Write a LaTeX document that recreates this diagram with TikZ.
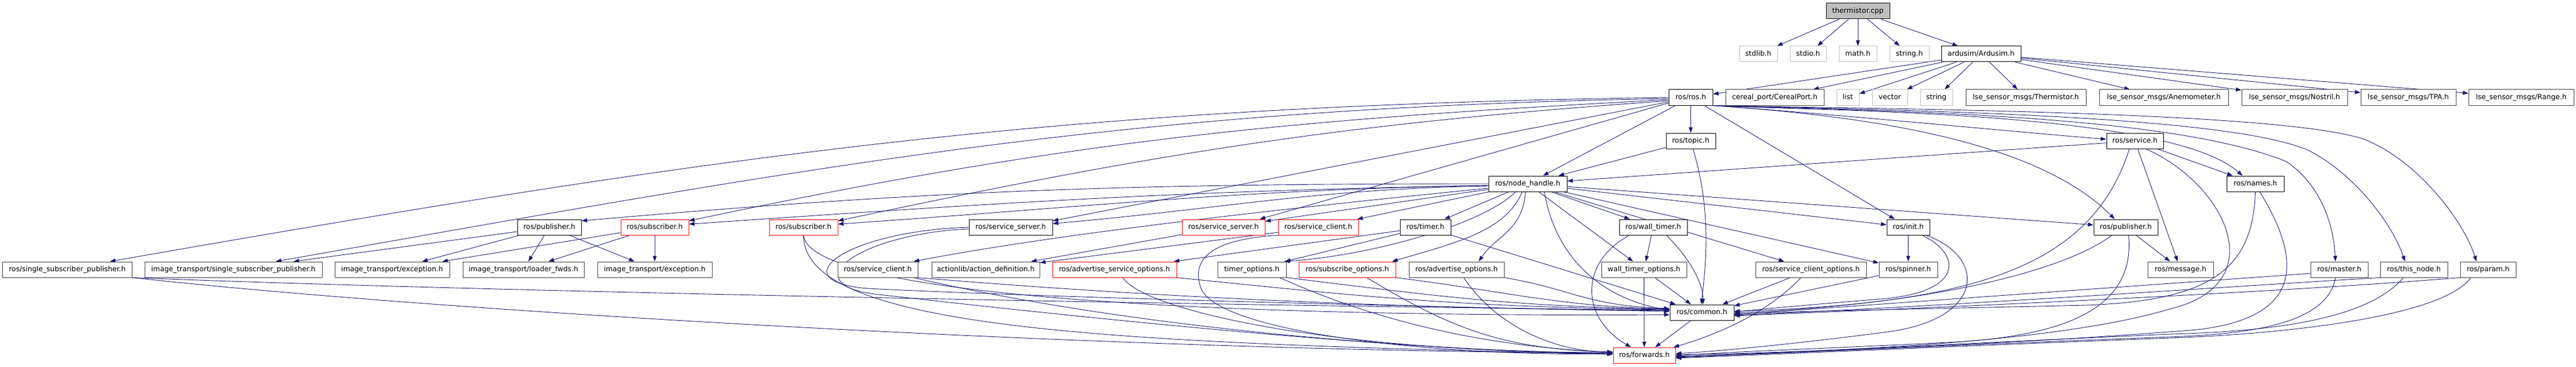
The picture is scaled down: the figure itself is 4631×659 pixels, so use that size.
\documentclass[tikz,border=0pt]{standalone}
\usepackage{fontspec}
\setmainfont{DejaVu Sans}
\usetikzlibrary{arrows.meta}
\definecolor{mblue}{HTML}{191970}
\definecolor{dgray}{HTML}{404040}
\definecolor{lgray}{HTML}{BFBFBF}
\pgfdeclarelayer{bg}
\pgfsetlayers{bg,main}
\newcommand{\gnd}[5]{\node[#1,minimum width=#4bp] (#2) at (#3) {#5};}
\begin{document}
\begin{tikzpicture}[x=1bp,y=1bp,
 gbox/.style={line width=1bp, fill=white, minimum height=28bp, inner sep=0pt, font=\fontsize{12.7bp}{15bp}\selectfont, text height=9.7bp, text depth=3bp},
 nb/.style={gbox, draw=black},
 ng/.style={gbox, draw=dgray},
 nl/.style={gbox, draw=lgray},
 nr/.style={gbox, draw=red},
 rootn/.style={gbox, draw=black, fill=lgray},
 edg/.style={draw=mblue, line width=0.9bp, -{Triangle[length=10bp,width=7bp]}}]
\useasboundingbox (0,0) rectangle (4631,-659);
% nodes
\gnd{rootn}{therm}{3340,-20}{114}{thermistor.cpp}
\gnd{nl}{stdlib}{3161,-97}{68}{stdlib.h}
\gnd{nl}{stdio}{3250.5,-97}{65}{stdio.h}
\gnd{nl}{mathh}{3340,-97}{68}{math.h}
\gnd{nl}{stringh}{3432.5,-97}{71}{string.h}
\gnd{nb}{ardusim}{3561.5,-97}{143}{ardusim/Ardusim.h}
\gnd{nb}{rosh}{3039.5,-175}{79}{ros/ros.h}
\gnd{ng}{cereal}{3190.5,-175}{177}{cereal\_port/CerealPort.h}
\gnd{nl}{listn}{3322,-175}{40}{list}
\gnd{nl}{vectorn}{3397.5,-175}{63}{vector}
\gnd{nl}{stringn}{3481,-175}{58}{string}
\gnd{ng}{thermh}{3642,-175}{216}{lse\_sensor\_msgs/Thermistor.h}
\gnd{ng}{anemo}{3890,-175}{232}{lse\_sensor\_msgs/Anemometer.h}
\gnd{ng}{nostril}{4125,-175}{190}{lse\_sensor\_msgs/Nostril.h}
\gnd{ng}{tpa}{4329.5,-175}{171}{lse\_sensor\_msgs/TPA.h}
\gnd{ng}{rangen}{4532.5,-175}{189}{lse\_sensor\_msgs/Range.h}
\gnd{nb}{topic}{3039.5,-253}{89}{ros/topic.h}
\gnd{nb}{service}{3838,-253}{102}{ros/service.h}
\gnd{nb}{nh}{2746.5,-330}{141}{ros/node\_handle.h}
\gnd{nb}{names}{4054.5,-330}{103}{ros/names.h}
\gnd{nb}{pubL}{987.5,-408}{115}{ros/publisher.h}
\gnd{nr}{subA}{1177,-408}{122}{ros/subscriber.h}
\gnd{nr}{subB}{1444.5,-408}{123}{ros/subscriber.h}
\gnd{nb}{ssrvB}{1817,-408}{150}{ros/service\_server.h}
\gnd{nr}{ssrvR}{2199.5,-408}{149}{ros/service\_server.h}
\gnd{nr}{sclR}{2370,-408}{144}{ros/service\_client.h}
\gnd{nb}{timer}{2562.5,-408}{91}{ros/timer.h}
\gnd{nb}{wtimer}{2972,-408}{122}{ros/wall\_timer.h}
\gnd{nb}{init}{3430.5,-408}{77}{ros/init.h}
\gnd{nb}{pubR}{3821.5,-408}{115}{ros/publisher.h}
\gnd{ng}{rssp}{121,-484}{232}{ros/single\_subscriber\_publisher.h}
\gnd{ng}{itssp}{419.5,-484}{319}{image\_transport/single\_subscriber\_publisher.h}
\gnd{ng}{excA}{705,-484}{206}{image\_transport/exception.h}
\gnd{ng}{loader}{941,-484}{218}{image\_transport/loader\_fwds.h}
\gnd{ng}{excB}{1177,-484}{206}{image\_transport/exception.h}
\gnd{ng}{sclB}{1578,-484}{144}{ros/service\_client.h}
\gnd{ng}{actdef}{1772,-484}{194}{actionlib/action\_definition.h}
\gnd{nr}{advsrv}{2003.5,-484}{223}{ros/advertise\_service\_options.h}
\gnd{ng}{timeropt}{2250.5,-484}{123}{timer\_options.h}
\gnd{nr}{subopt}{2422,-484}{174}{ros/subscribe\_options.h}
\gnd{ng}{advopt}{2618.5,-484}{171}{ros/advertise\_options.h}
\gnd{ng}{wtopt}{2955.5,-484}{153}{wall\_timer\_options.h}
\gnd{ng}{sclopt}{3255.5,-484}{199}{ros/service\_client\_options.h}
\gnd{ng}{spinner}{3430.5,-484}{105}{ros/spinner.h}
\gnd{ng}{message}{3920,-484}{118}{ros/message.h}
\gnd{ng}{master}{4205.5,-484}{103}{ros/master.h}
\gnd{ng}{thisnode}{4339.5,-484}{121}{ros/this\_node.h}
\gnd{ng}{param}{4473,-484}{100}{ros/param.h}
\gnd{nb}{common}{3059.5,-561}{115}{ros/common.h}
\gnd{nr}{fwd}{2956,-638}{112}{ros/forwards.h}
\begin{pgfonlayer}{bg}
\fill[white] (0,0) rectangle (4631,-659);
% thermistor.cpp
\foreach \t in {stdlib,stdio,mathh,stringh,ardusim} \draw[edg] (therm) -- (\t);
% Ardusim.h
\foreach \t in {rosh,cereal,listn,vectorn,stringn,thermh,anemo,nostril,tpa,rangen} \draw[edg] (ardusim) -- (\t);
% ros.h
\draw[edg] (rosh) -- (topic);
\draw[edg] (rosh) -- (nh);
\draw[edg] (rosh) -- (init);
\draw[edg] (topic) -- (nh);
\draw[edg] (rosh.south east) .. controls (3300,-205) and (3600,-235) .. ([yshift=3]service.west);
\draw[edg] (rosh.south east) .. controls (3300,-200) and (3900,-200) .. ([xshift=-23]names.north);
\draw[edg] (rosh.south east) .. controls (3300,-205) and (3650,-240) .. ([xshift=-20]pubR.north);
\draw[edg] (rosh.south east) .. controls (3400,-200) and (3900,-205) .. (4110,-290) .. controls (4170,-330) and (4195,-400) .. ([xshift=-7]master.north);
\draw[edg] (rosh.south east) .. controls (3400,-198) and (4000,-205) .. (4150,-270) .. controls (4230,-310) and (4300,-400) .. ([xshift=-16]thisnode.north);
\draw[edg] (rosh.south east) .. controls (3400,-196) and (4100,-200) .. (4250,-250) .. controls (4350,-290) and (4430,-400) .. ([xshift=-21]param.north);
\draw[edg] (rosh.west) .. controls (1900,-190) and (1283,-280) .. ([xshift=-40]rssp.north east);
\draw[edg] ([yshift=-2]rosh.west) .. controls (2013,-194) and (1467,-299) .. ([xshift=-84]itssp.north east);
\draw[edg] ([yshift=-4]rosh.west) .. controls (2306,-215) and (1918,-253) .. ([yshift=-3]subA.north east);
\draw[edg] ([yshift=-6]rosh.west) .. controls (2411,-222) and (2084,-274) .. ([yshift=-3]subB.north east);
\draw[edg] ([yshift=-8]rosh.west) -- ([yshift=-3]ssrvB.north east);
\draw[edg] ([yshift=-10]rosh.west) -- ([xshift=-10]ssrvR.north east);
% node_handle.h
\draw[edg] (nh.west) .. controls (2037,-330) and (1682,-341) .. ([yshift=-3]pubL.north east);
\draw[edg] ([yshift=-3]nh.west) .. controls (2112,-343) and (1801,-364) .. ([yshift=-9]subA.north east);
\draw[edg] ([yshift=-3]nh.west) .. controls (2217,-341) and (1964,-371) .. ([yshift=-9]subB.north east);
\draw[edg] ([yshift=-4]nh.west) .. controls (2368,-339) and (2199,-375) .. ([yshift=-8]ssrvB.north east);
\draw[edg] (nh) -- (ssrvR);
\draw[edg] (nh) -- (sclR);
\draw[edg] (nh) -- (timer);
\draw[edg] ([yshift=-8]nh.west) .. controls (2300,-375) and (1900,-420) .. ([xshift=-8]sclB.north east);
\draw[edg] (nh) -- (wtimer);
\draw[edg] (nh) -- (wtopt);
\draw[edg] (nh) -- (sclopt);
\draw[edg] (nh) -- (spinner);
\draw[edg] (nh) -- (init);
\draw[edg] (nh) -- (pubR);
\draw[edg] ([xshift=-22]nh.south) .. controls +(-60,-60) and +(150,10) .. ([xshift=-4]timeropt.north east);
\draw[edg] ([xshift=-10]nh.south) .. controls +(-30,-70) and +(120,35) .. ([xshift=-7]subopt.north east);
\draw[edg] ([xshift=-4]nh.south) .. controls +(-5,-70) and +(30,45) .. ([xshift=40]advopt.north);
\draw[edg] ([xshift=30]nh.south) .. controls +(20,-120) and +(-120,20) .. ([yshift=4]common.west);
% timer, service server/client
\draw[edg] (timer) -- (timeropt);
\draw[edg] (timer) -- (advsrv);
\draw[edg] (timer) -- (common);
\draw[edg] (ssrvR) -- (actdef);
\draw[edg] (sclR) -- (actdef);
\draw[edg] (sclR.south west) .. controls (2170,-430) and (2140,-470) .. (2160,-520) .. controls (2200,-600) and (2600,-640) .. ([yshift=3]fwd.west);
% image_transport
\draw[edg] ([yshift=-8]pubL.west) -- ([xshift=-52]itssp.north east);
\draw[edg] (pubL) -- (excA);
\draw[edg] (pubL) -- (loader);
\draw[edg] (pubL) -- (excB);
\draw[edg] (subA) -- (excA);
\draw[edg] (subA) -- (loader);
\draw[edg] (subA) -- (excB);
% left group to common / forwards
\draw[edg] (rssp.south east) .. controls (900,-525) and (2300,-550) .. ([yshift=4]common.west);
\draw[edg] (rssp.south east) .. controls (800,-560) and (2000,-630) .. ([yshift=4]fwd.west);
\draw[edg] (subB.south) .. controls +(10,-110) and +(-800,-5) .. ([yshift=-4]common.west);
\draw[edg] (subB.south) .. controls +(0,-170) and +(-900,20) .. ([yshift=2]fwd.west);
\draw[edg] (ssrvB.west) .. controls (1520,-415) and (1400,-505) .. (1560,-518) .. controls (1900,-535) and (2600,-552) .. ([yshift=2]common.west);
\draw[edg] ([yshift=-3]ssrvB.west) .. controls (1540,-420) and (1415,-515) .. (1590,-530) .. controls (1900,-565) and (2500,-630) .. ([yshift=2]fwd.west);
\draw[edg] (sclB.south east) .. controls +(300,-25) and +(-600,5) .. ([yshift=3]common.west);
\draw[edg] ([xshift=-8]sclB.south east) .. controls +(300,-70) and +(-500,10) .. ([yshift=3]fwd.west);
\draw[edg] (advsrv.south east) .. controls +(300,-30) and +(-400,5) .. ([yshift=5]common.west);
\draw[edg] ([xshift=15]advsrv.south) .. controls +(40,-60) and +(-500,0) .. ([yshift=5]fwd.west);
\draw[edg] (timeropt.south east) .. controls +(250,-30) and +(-300,5) .. ([yshift=6]common.west);
\draw[edg] ([xshift=-12]timeropt.south east) .. controls +(200,-90) and +(-200,10) .. ([yshift=5]fwd.west);
\draw[edg] (subopt.south east) .. controls +(200,-25) and +(-200,5) .. ([yshift=6]common.west);
\draw[edg] ([xshift=35]subopt.south) .. controls +(150,-90) and +(-200,5) .. ([yshift=6]fwd.west);
\draw[edg] (advopt.south east) .. controls +(120,-20) and +(-150,5) .. ([yshift=7]common.west);
\draw[edg] ([xshift=13]advopt.south) .. controls +(60,-90) and +(-100,0) .. ([yshift=6]fwd.west);
% middle
\draw[edg] (wtimer) -- (wtopt);
\draw[edg] ([xshift=24]wtimer.south) .. controls +(40,-40) and +(0,40) .. ([xshift=2]common.north);
\draw[edg] ([xshift=4]topic.south) .. controls (3078,-380) and (3066,-480) .. ([xshift=-1]common.north);
\draw[edg] ([xshift=-43]wtimer.south) .. controls (2840,-470) and (2840,-570) .. ([xshift=-24]fwd.north);
\draw[edg] (wtopt) -- (fwd);
\draw[edg] (wtopt) -- (common);
\draw[edg] (sclopt) -- (common);
\draw[edg] ([xshift=-18]sclopt.south) .. controls (3180,-560) and (3090,-600) .. ([xshift=-4]fwd.north east);
\draw[edg] (spinner) -- (common);
\draw[edg] (init) -- (spinner);
\draw[edg] (common) -- (fwd);
% right group
\draw[edg] (service) -- (nh);
\draw[edg] (service) -- (names);
\draw[edg] (service) -- (message);
\draw[edg] (pubR) -- (message);
\draw[edg] ([xshift=25]init.south) .. controls (3525,-455) and (3535,-525) .. (3380,-537) .. controls (3280,-545) and (3200,-552) .. ([yshift=1]common.east);
\draw[edg] ([xshift=32]init.south) .. controls (3570,-460) and (3570,-570) .. (3400,-595) .. controls (3250,-615) and (3100,-630) .. ([yshift=3]fwd.east);
\draw[edg] ([xshift=-10]service.south) .. controls (3760,-480) and (3550,-545) .. ([yshift=2]common.east);
\draw[edg] ([xshift=20]service.south) .. controls (4000,-330) and (4090,-510) .. (3900,-555) .. controls (3700,-615) and (3300,-632) .. ([yshift=1]fwd.east);
\draw[edg] ([xshift=-25]pubR.south) .. controls (3720,-480) and (3500,-545) .. ([yshift=-1]common.east);
\draw[edg] ([xshift=5]pubR.south) .. controls (3840,-560) and (3700,-605) .. (3500,-615) .. controls (3300,-625) and (3100,-632) .. ([yshift=-1]fwd.east);
\draw[edg] (names.south) .. controls (4050,-480) and (3980,-540) .. (3750,-548) .. controls (3450,-555) and (3250,-558) .. ([yshift=-3]common.east);
\draw[edg] ([xshift=8]names.south) .. controls (4140,-470) and (4140,-570) .. (3950,-592) .. controls (3600,-620) and (3200,-633) .. ([yshift=-2]fwd.east);
\draw[edg] ([yshift=-7]master.west) -- ([yshift=-4]common.east);
\draw[edg] ([xshift=-7]master.south) .. controls (4185,-580) and (4050,-600) .. (3900,-605) .. controls (3500,-620) and (3200,-635) .. ([yshift=-3]fwd.east);
\draw[edg] (thisnode.south west) .. controls (4000,-515) and (3500,-550) .. ([yshift=-5]common.east);
\draw[edg] ([xshift=-19]thisnode.south) .. controls (4260,-570) and (4100,-595) .. (3900,-600) .. controls (3500,-618) and (3200,-634) .. ([yshift=-4]fwd.east);
\draw[edg] (param.south west) .. controls (4100,-525) and (3500,-552) .. ([yshift=-6]common.east);
\draw[edg] ([xshift=-31]param.south) .. controls (4390,-570) and (4100,-600) .. (3900,-607) .. controls (3500,-622) and (3200,-636) .. ([yshift=-5]fwd.east);
\end{pgfonlayer}
\end{tikzpicture}
\end{document}
